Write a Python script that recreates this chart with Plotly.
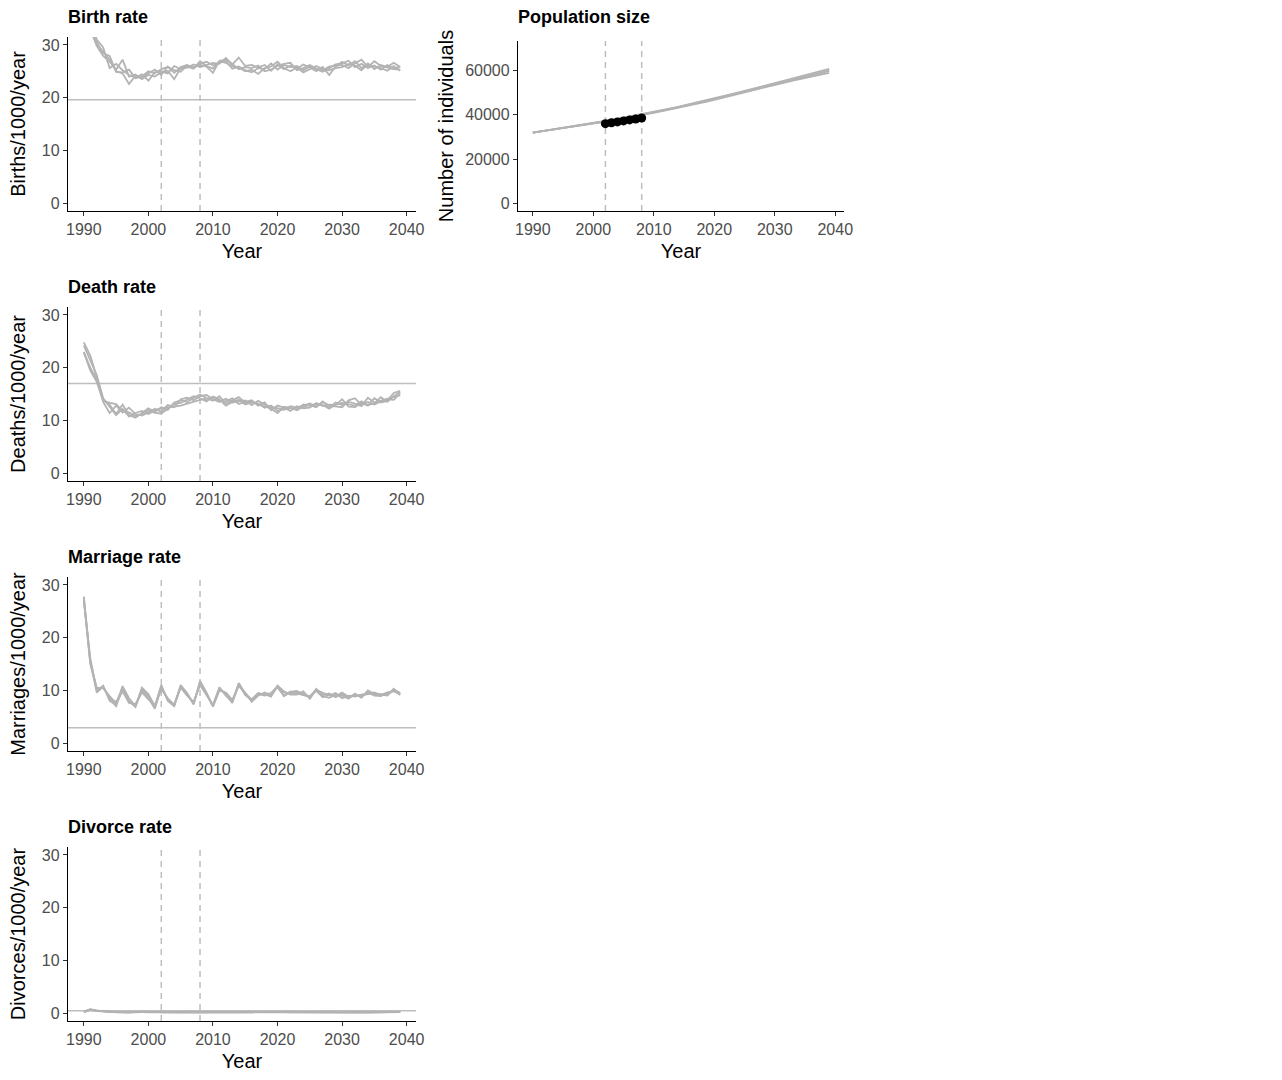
import plotly.graph_objects as go

# ---------------- data ----------------
years = list(range(1990, 2040))
tick_years = [1990, 2000, 2010, 2020, 2030, 2040]
rate_ticks = [0, 10, 20, 30]
pop_ticks = [0, 20000, 40000, 60000]
window_years = [2002, 2008]

# observed (reference) rates shown as horizontal lines
observed_birth = 19.6
observed_death = 17.0
observed_marriage = 2.9
observed_divorce = 0.45

# observed population counts 2002-2008
obs_pop_years = [2002, 2003, 2004, 2005, 2006, 2007, 2008]
obs_pop = [36000, 36400, 36800, 37250, 37700, 38100, 38550]

# simulated runs: one row per year, one column per simulation
birth_rows = [
    [39.0, 40.5, 38.0, 41.0], [33.5, 35.0, 33.0, 34.5], [30.2, 31.0, 29.8, 30.5],
    [28.8, 29.5, 27.9, 28.4], [27.2, 25.6, 26.8, 27.9], [25.0, 26.4, 25.3, 24.9],
    [24.6, 25.2, 27.2, 24.8], [22.6, 24.3, 24.0, 25.3], [24.1, 23.8, 24.4, 23.7],
    [23.9, 24.4, 23.5, 24.0], [24.6, 23.2, 24.3, 25.0], [25.3, 24.8, 24.0, 24.6],
    [24.3, 25.0, 24.8, 25.4], [25.9, 24.6, 25.1, 25.8], [24.7, 26.0, 23.5, 25.2],
    [25.8, 25.4, 25.6, 24.9], [26.2, 25.7, 25.9, 26.1], [25.6, 26.3, 25.5, 25.8],
    [26.4, 25.8, 26.9, 26.2], [26.8, 26.2, 26.0, 25.9], [26.1, 26.6, 25.5, 24.7],
    [26.7, 26.4, 26.9, 27.0], [26.9, 27.5, 26.6, 27.2], [25.5, 26.3, 26.0, 26.4],
    [25.9, 27.6, 25.7, 25.4], [25.2, 26.0, 25.0, 25.8], [24.8, 26.2, 25.3, 25.6],
    [25.6, 25.7, 24.5, 26.1], [25.4, 26.2, 25.6, 25.0], [26.5, 25.1, 25.9, 25.3],
    [25.3, 26.3, 26.8, 26.0], [26.2, 25.4, 25.6, 26.4], [25.8, 26.1, 25.0, 26.6],
    [26.0, 25.5, 25.7, 25.2], [25.2, 26.3, 24.8, 25.6], [25.9, 25.7, 25.4, 26.2],
    [25.4, 25.0, 26.0, 25.5], [24.9, 25.8, 25.4, 25.2], [25.6, 24.3, 25.2, 25.9],
    [26.3, 25.9, 25.6, 26.0], [26.5, 26.8, 25.8, 26.2], [27.0, 26.1, 26.4, 25.6],
    [25.8, 26.9, 26.1, 26.5], [26.4, 25.6, 25.2, 27.2], [25.6, 26.5, 26.3, 25.8],
    [26.1, 25.4, 25.9, 26.9], [25.3, 26.2, 25.6, 26.0], [26.2, 25.8, 25.1, 25.7],
    [25.5, 26.6, 26.0, 25.4], [25.9, 25.8, 25.1, 25.3],
]

death_rows = [
    [24.8, 23.0, 24.2, 22.9], [22.3, 20.0, 21.5, 19.5], [18.2, 17.8, 18.6, 17.3],
    [13.9, 13.5, 14.2, 13.7], [13.0, 11.4, 12.6, 13.3], [11.2, 12.8, 11.0, 13.1],
    [13.0, 11.5, 12.2, 11.8], [11.0, 12.4, 10.7, 11.5], [10.5, 11.2, 11.4, 10.8],
    [11.4, 10.9, 11.8, 11.2], [12.3, 11.5, 11.2, 11.9], [11.6, 12.2, 11.9, 11.4],
    [12.5, 11.6, 12.3, 11.3], [12.0, 12.9, 12.4, 12.2], [13.4, 12.5, 12.6, 13.1],
    [13.8, 14.0, 12.8, 13.3], [13.5, 14.3, 13.2, 14.0], [14.3, 13.8, 13.5, 14.6],
    [14.9, 14.6, 13.9, 14.2], [14.2, 14.8, 14.1, 13.6], [13.7, 14.0, 14.4, 14.5],
    [14.6, 13.5, 13.8, 14.0], [13.2, 14.1, 13.6, 12.8], [13.8, 13.4, 14.2, 13.5],
    [14.4, 13.6, 13.1, 13.9], [13.3, 13.8, 13.5, 13.0], [13.6, 12.9, 13.8, 13.4],
    [13.1, 13.7, 12.8, 13.2], [12.6, 13.0, 13.4, 12.4], [12.2, 12.5, 11.9, 12.8],
    [11.4, 12.3, 12.8, 11.8], [12.6, 12.0, 12.4, 12.1], [12.3, 12.7, 11.8, 12.4],
    [12.1, 12.4, 12.7, 11.9], [13.0, 12.8, 12.3, 12.6], [12.8, 13.2, 12.4, 12.9],
    [13.1, 12.6, 13.3, 12.5], [12.9, 13.5, 12.7, 13.6], [12.2, 12.8, 13.0, 12.4],
    [13.0, 12.6, 12.9, 13.4], [13.3, 12.5, 14.0, 12.9], [13.0, 13.8, 12.6, 13.5],
    [12.8, 14.2, 12.5, 13.2], [13.6, 12.9, 13.3, 12.7], [12.9, 13.5, 12.8, 14.3],
    [13.2, 13.0, 14.2, 13.4], [14.4, 13.6, 13.4, 13.8], [13.5, 14.0, 13.7, 14.1],
    [14.6, 13.9, 15.2, 14.4], [15.4, 15.1, 15.6, 14.8],
]

marriage_rows = [
    [27.8, 27.3, 26.9, 27.5], [15.5, 15.0, 16.1, 15.3], [9.6, 10.5, 10.0, 10.3],
    [10.7, 10.4, 10.9, 10.6], [8.4, 8.9, 8.0, 8.6], [7.0, 7.5, 7.3, 7.8],
    [10.4, 9.8, 10.8, 10.1], [8.0, 7.6, 8.5, 7.8], [6.8, 7.4, 7.0, 7.2],
    [10.2, 9.6, 10.5, 9.9], [8.9, 8.3, 9.3, 8.6], [6.7, 7.2, 7.0, 6.5],
    [10.8, 10.2, 11.0, 10.5], [8.2, 8.5, 8.0, 8.4], [7.1, 7.3, 7.0, 7.2],
    [10.7, 10.5, 11.0, 10.8], [9.3, 9.0, 9.5, 9.2], [7.5, 7.8, 7.3, 7.6],
    [11.5, 11.0, 11.8, 11.2], [9.3, 9.0, 9.6, 9.4], [7.0, 7.2, 6.9, 7.1],
    [10.2, 10.4, 10.0, 10.6], [9.4, 9.2, 9.6, 9.0], [8.0, 7.6, 8.2, 7.8],
    [11.0, 11.3, 10.8, 11.4], [9.3, 9.1, 9.6, 9.4], [8.0, 8.2, 7.8, 8.3],
    [9.2, 9.4, 9.0, 9.5], [9.3, 9.0, 9.6, 9.2], [8.8, 9.3, 9.1, 9.5],
    [10.8, 10.6, 10.9, 10.7], [9.6, 9.0, 9.8, 8.9], [9.4, 9.8, 9.2, 9.7],
    [9.7, 9.4, 9.2, 9.9], [9.5, 9.2, 9.8, 9.1], [8.6, 8.9, 8.4, 8.8],
    [10.3, 10.0, 10.1, 9.9], [9.1, 8.9, 9.5, 8.7], [9.4, 8.6, 9.0, 9.2],
    [8.7, 9.2, 9.5, 8.9], [9.3, 9.0, 8.5, 9.6], [8.6, 8.4, 9.0, 8.8],
    [9.1, 9.4, 8.8, 9.2], [8.9, 8.6, 9.2, 9.0], [9.6, 10.0, 9.4, 9.3],
    [9.0, 9.3, 9.6, 9.4], [8.9, 9.3, 9.1, 9.2], [9.4, 9.1, 9.6, 9.0],
    [10.0, 10.3, 9.8, 10.2], [9.4, 9.1, 9.3, 9.5],
]

divorce_rows = [
    [0.25, 0.30, 0.20, 0.28], [0.65, 0.72, 0.58, 0.68], [0.45, 0.50, 0.40, 0.42],
    [0.30, 0.28, 0.35, 0.32], [0.22, 0.18, 0.25, 0.20], [0.15, 0.20, 0.12, 0.18],
    [0.18, 0.14, 0.20, 0.16], [0.12, 0.16, 0.15, 0.10], [0.20, 0.15, 0.18, 0.22],
    [0.14, 0.18, 0.12, 0.16], [0.17, 0.12, 0.20, 0.15], [0.22, 0.18, 0.16, 0.20],
    [0.15, 0.20, 0.18, 0.13], [0.18, 0.14, 0.22, 0.17], [0.12, 0.17, 0.15, 0.19],
    [0.20, 0.16, 0.13, 0.18], [0.16, 0.21, 0.18, 0.14], [0.19, 0.15, 0.20, 0.17],
    [0.14, 0.18, 0.16, 0.21], [0.18, 0.13, 0.19, 0.15], [0.16, 0.20, 0.14, 0.18],
    [0.21, 0.17, 0.18, 0.16], [0.15, 0.19, 0.21, 0.17], [0.18, 0.16, 0.15, 0.20],
    [0.20, 0.18, 0.17, 0.14], [0.16, 0.21, 0.19, 0.18], [0.18, 0.15, 0.20, 0.16],
    [0.15, 0.19, 0.16, 0.21], [0.19, 0.17, 0.14, 0.18], [0.17, 0.20, 0.18, 0.15],
    [0.20, 0.16, 0.19, 0.18], [0.16, 0.18, 0.21, 0.17], [0.18, 0.21, 0.16, 0.19],
    [0.15, 0.17, 0.18, 0.20], [0.19, 0.15, 0.20, 0.16], [0.17, 0.19, 0.15, 0.18],
    [0.20, 0.18, 0.17, 0.21], [0.16, 0.20, 0.19, 0.15], [0.18, 0.16, 0.21, 0.18],
    [0.14, 0.19, 0.17, 0.16], [0.19, 0.17, 0.15, 0.20], [0.17, 0.21, 0.19, 0.18],
    [0.20, 0.15, 0.18, 0.16], [0.16, 0.18, 0.20, 0.19], [0.18, 0.20, 0.16, 0.15],
    [0.15, 0.17, 0.19, 0.21], [0.19, 0.16, 0.18, 0.17], [0.17, 0.19, 0.15, 0.20],
    [0.20, 0.18, 0.17, 0.16], [0.18, 0.17, 0.20, 0.19],
]

population_rows = [
    [32000, 32000, 32000, 32000], [32390, 32420, 32370, 32400], [32780, 32830, 32750, 32800],
    [33170, 33240, 33130, 33210], [33560, 33650, 33510, 33600], [33960, 34060, 33900, 34010],
    [34380, 34490, 34300, 34430], [34800, 34920, 34710, 34850], [35230, 35360, 35130, 35280],
    [35670, 35810, 35560, 35720], [36110, 36260, 36000, 36160], [36560, 36720, 36440, 36610],
    [37020, 37190, 36890, 37070], [37490, 37670, 37350, 37540], [37970, 38160, 37820, 38020],
    [38460, 38660, 38300, 38510], [38960, 39170, 38790, 39010], [39470, 39690, 39290, 39520],
    [39990, 40220, 39800, 40040], [40520, 40760, 40320, 40570], [41060, 41310, 40850, 41110],
    [41610, 41870, 41390, 41660], [42170, 42440, 41940, 42220], [42740, 43020, 42500, 42790],
    [43320, 43610, 43070, 43370], [43910, 44210, 43650, 43960], [44510, 44820, 44240, 44560],
    [45120, 45440, 44840, 45170], [45740, 46070, 45450, 45790], [46370, 46710, 46070, 46420],
    [47010, 47360, 46700, 47060], [47660, 48020, 47340, 47710], [48320, 48690, 47990, 48370],
    [48990, 49370, 48650, 49040], [49670, 50060, 49320, 49720], [50360, 50760, 50000, 50410],
    [51060, 51470, 50690, 51110], [51770, 52190, 51390, 51820], [52490, 52920, 52100, 52540],
    [53220, 53660, 52820, 53270], [53960, 54410, 53550, 54010], [54600, 55100, 54140, 54660],
    [55240, 55790, 54730, 55310], [55880, 56480, 55320, 55960], [56520, 57170, 55910, 56610],
    [57160, 57860, 56500, 57260], [57800, 58550, 57090, 57910], [58440, 59240, 57680, 58560],
    [59080, 59930, 58270, 59210], [59720, 60620, 58860, 59860],
]

# ---------------- layout helpers ----------------
W, H = 1282, 1080
SIM_COLOR = "#B3B3B3"
REF_COLOR = "#BEBEBE"
FONT = "Liberation Sans, Arial, Helvetica, sans-serif"


def px_x(v):
    return v / W


def px_y(v):
    return 1 - v / H


panels = [
    dict(n=1, title="Birth rate", ytitle="Births/1000/year", rows=birth_rows,
         obs=observed_birth, box=(68, 416, 37, 211), yr=[-1.5, 31.5], yt=rate_ticks, ystand=10),
    dict(n=2, title="Population size", ytitle="Number of individuals", rows=population_rows,
         obs=None, box=(518, 844, 41, 211), yr=[-3300, 73200], yt=pop_ticks, ystand=6),
    dict(n=3, title="Death rate", ytitle="Deaths/1000/year", rows=death_rows,
         obs=observed_death, box=(68, 416, 307, 481), yr=[-1.5, 31.5], yt=rate_ticks, ystand=10),
    dict(n=4, title="Marriage rate", ytitle="Marriages/1000/year", rows=marriage_rows,
         obs=observed_marriage, box=(68, 416, 577, 751), yr=[-1.5, 31.5], yt=rate_ticks, ystand=10),
    dict(n=5, title="Divorce rate", ytitle="Divorces/1000/year", rows=divorce_rows,
         obs=observed_divorce, box=(68, 416, 847, 1021), yr=[-1.5, 31.5], yt=rate_ticks, ystand=10),
]

fig = go.Figure()
layout = dict(
    width=W, height=H,
    margin=dict(l=0, r=0, t=0, b=0),
    paper_bgcolor="white", plot_bgcolor="white",
    showlegend=False,
    font=dict(family=FONT, color="black"),
    shapes=[], annotations=[],
)

for p in panels:
    n = p["n"]
    xa = "x" if n == 1 else f"x{n}"
    ya = "y" if n == 1 else f"y{n}"
    xkey = "xaxis" if n == 1 else f"xaxis{n}"
    ykey = "yaxis" if n == 1 else f"yaxis{n}"
    x0, x1, y0, y1 = p["box"]

    # dashed window lines
    for wy in window_years:
        layout["shapes"].append(dict(
            type="line", xref=xa, yref=f"{ya} domain", x0=wy, x1=wy, y0=0, y1=1,
            line=dict(color=REF_COLOR, width=1.5, dash="6px,5px"), layer="below"))
    # observed rate line
    if p["obs"] is not None:
        layout["shapes"].append(dict(
            type="line", xref=f"{xa} domain", yref=ya, x0=0, x1=1, y0=p["obs"], y1=p["obs"],
            line=dict(color=REF_COLOR, width=1.6), layer="below"))

    cols = list(zip(*p["rows"]))
    for col in cols:
        fig.add_trace(go.Scatter(
            x=years, y=list(col), mode="lines", xaxis=xa, yaxis=ya,
            line=dict(color=SIM_COLOR, width=1.8), hoverinfo="skip", cliponaxis=True))

    if n == 2:
        fig.add_trace(go.Scatter(
            x=obs_pop_years, y=obs_pop, mode="markers", xaxis=xa, yaxis=ya,
            marker=dict(color="black", size=9), hoverinfo="skip"))

    layout[xkey] = dict(
        domain=[px_x(x0), px_x(x1)], anchor=ya, range=[1987.55, 2041.45],
        showline=True, linecolor="black", linewidth=1.3, mirror=False,
        ticks="outside", ticklen=4, tickwidth=1, tickcolor="#333333",
        tickvals=tick_years, tickfont=dict(size=16, color="#4D4D4D", family=FONT),
        showgrid=False, zeroline=False, automargin=False,
        title=dict(text="Year", font=dict(size=20, color="black", family=FONT), standoff=6),
    )
    layout[ykey] = dict(
        domain=[px_y(y1), px_y(y0)], anchor=xa, range=p["yr"],
        showline=True, linecolor="black", linewidth=1.3, mirror=False,
        ticks="outside", ticklen=4, tickwidth=1, tickcolor="#333333",
        tickvals=p["yt"], tickformat="d", tickfont=dict(size=16, color="#4D4D4D", family=FONT),
        showgrid=False, zeroline=False, automargin=False,
        title=dict(text=p["ytitle"], font=dict(size=20, color="black", family=FONT),
                   standoff=p["ystand"]),
    )
    title_y = 17 if n in (1, 2) else y0 - 20
    layout["annotations"].append(dict(
        text=f"<b>{p['title']}</b>", xref="paper", yref="paper",
        x=px_x(x0 - 2), y=px_y(title_y), xanchor="left", yanchor="middle",
        showarrow=False, font=dict(size=18, color="black", family=FONT)))

fig.update_layout(**layout)
fig.write_html("out.html")
